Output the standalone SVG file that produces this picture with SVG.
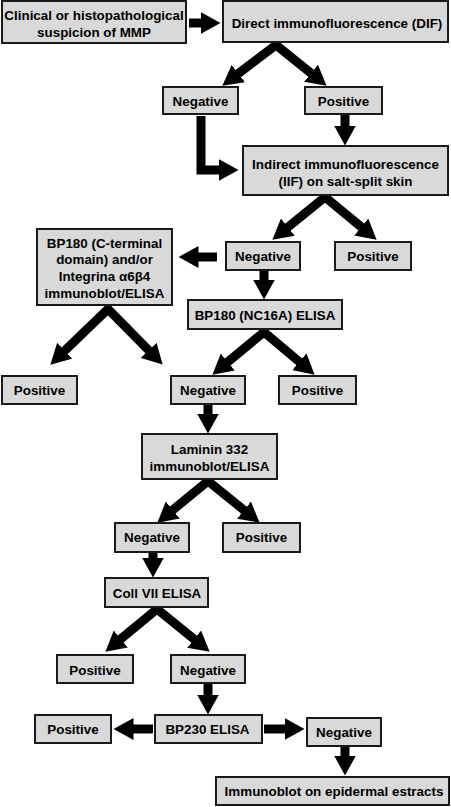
<svg xmlns="http://www.w3.org/2000/svg" width="451" height="807" viewBox="0 0 451 807">
<style>
.box{fill:#d9d9d9;stroke:#1a1a1a;stroke-width:2}
.t{font-family:"Liberation Sans",Arial,sans-serif;font-weight:bold;font-size:13.4px;fill:#000;text-anchor:middle;dominant-baseline:central}
.c{fill:none;stroke:#000;stroke-width:9;stroke-linejoin:miter;stroke-miterlimit:10}
.ch{fill:none;stroke:#000;stroke-width:9}
</style>
<defs>
<marker id="ah" viewBox="0 0 20 22" markerWidth="20" markerHeight="22" refX="0.5" refY="11" orient="auto-start-reverse" markerUnits="userSpaceOnUse">
<path d="M0,0 L20,11 L0,22 z" fill="#000"/>
</marker>
</defs>
<rect width="451" height="807" fill="#fff"/>
<g id="connectors">
<line class="ch" x1="189" y1="23" x2="201" y2="23" stroke-width="10" marker-end="url(#ah)"/>
<polyline class="c" points="237.9,73.9 276,45 311.4,73.5" marker-start="url(#ah)" marker-end="url(#ah)"/>
<line class="ch" x1="345" y1="115" x2="345" y2="126" marker-end="url(#ah)"/>
<path class="ch" d="M201,116 V170 H219" stroke-linejoin="miter" marker-end="url(#ah)"/>
<polyline class="c" points="287.5,227.4 325,197 361.6,227.3" marker-start="url(#ah)" marker-end="url(#ah)"/>
<line class="ch" x1="217" y1="257" x2="198" y2="257" marker-end="url(#ah)"/>
<line class="ch" x1="264" y1="271" x2="264" y2="280" marker-end="url(#ah)"/>
<polyline class="c" points="64.4,351.1 108,309 149,350.7" marker-start="url(#ah)" marker-end="url(#ah)"/>
<polyline class="c" points="227.4,362.3 264,332 299.7,362.1" marker-start="url(#ah)" marker-end="url(#ah)"/>
<line class="ch" x1="208" y1="405" x2="208" y2="414" marker-end="url(#ah)"/>
<polyline class="c" points="172.4,510.3 208,481 244.4,510.4" marker-start="url(#ah)" marker-end="url(#ah)"/>
<line class="ch" x1="153" y1="553" x2="153" y2="558" marker-end="url(#ah)"/>
<polyline class="c" points="120.4,639.3 157,609 194.5,639.4" marker-start="url(#ah)" marker-end="url(#ah)"/>
<line class="ch" x1="208" y1="684" x2="208" y2="695" marker-end="url(#ah)"/>
<line class="ch" x1="153" y1="729" x2="133" y2="729" marker-end="url(#ah)"/>
<line class="ch" x1="264" y1="729" x2="285" y2="729" marker-end="url(#ah)"/>
<line class="ch" x1="345" y1="747" x2="345" y2="756" marker-end="url(#ah)"/>
</g>
<g id="n-clinical"><rect class="box" x="2" y="1" width="184" height="42"/><text class="t" x="94" y="15">Clinical or histopathological</text><text class="t" x="94" y="32">suspicion of MMP</text></g>
<g id="n-dif"><rect class="box" x="223" y="1" width="225" height="41"/><text class="t" x="337" y="23">Direct immunofluorescence (DIF)</text></g>
<g id="n-neg1"><rect class="box" x="163" y="87" width="75" height="27"/><text class="t" x="200.5" y="101">Negative</text></g>
<g id="n-pos1"><rect class="box" x="305" y="87" width="77" height="27"/><text class="t" x="343.5" y="101">Positive</text></g>
<g id="n-iif"><rect class="box" x="243" y="146" width="205" height="49"/><text class="t" x="345.5" y="164">Indirect immunofluorescence</text><text class="t" x="345.5" y="181">(IIF) on salt-split skin</text></g>
<g id="n-bp180c"><rect class="box" x="37" y="229" width="135" height="76"/><text class="t" x="104.5" y="243">BP180 (C-terminal</text><text class="t" x="104.5" y="259">domain) and/or</text><text class="t" x="104.5" y="276">Integrina α6β4</text><text class="t" x="104.5" y="293">immunoblot/ELISA</text></g>
<g id="n-neg2"><rect class="box" x="226" y="242" width="74" height="28"/><text class="t" x="263" y="256">Negative</text></g>
<g id="n-pos2"><rect class="box" x="335" y="242" width="76" height="28"/><text class="t" x="373" y="256">Positive</text></g>
<g id="n-nc16a"><rect class="box" x="188" y="300" width="154" height="29"/><text class="t" x="265" y="315">BP180 (NC16A) ELISA</text></g>
<g id="n-pos3"><rect class="box" x="2" y="376" width="75" height="28"/><text class="t" x="39.5" y="390">Positive</text></g>
<g id="n-neg3"><rect class="box" x="171" y="376" width="74" height="28"/><text class="t" x="208" y="390">Negative</text></g>
<g id="n-pos4"><rect class="box" x="279" y="376" width="77" height="28"/><text class="t" x="317.5" y="390">Positive</text></g>
<g id="n-laminin"><rect class="box" x="142" y="434" width="135" height="45"/><text class="t" x="209.5" y="449">Laminin 332</text><text class="t" x="209.5" y="466">immunoblot/ELISA</text></g>
<g id="n-neg4"><rect class="box" x="115" y="523" width="74" height="29"/><text class="t" x="152" y="537">Negative</text></g>
<g id="n-pos5"><rect class="box" x="223" y="523" width="77" height="29"/><text class="t" x="261.5" y="537">Positive</text></g>
<g id="n-coll7"><rect class="box" x="105" y="578" width="103" height="29"/><text class="t" x="157" y="593">Coll VII ELISA</text></g>
<g id="n-pos6"><rect class="box" x="57" y="655" width="76" height="28"/><text class="t" x="95" y="670">Positive</text></g>
<g id="n-neg6"><rect class="box" x="171" y="655" width="74" height="28"/><text class="t" x="208" y="670">Negative</text></g>
<g id="n-bp230"><rect class="box" x="155" y="715" width="107" height="28"/><text class="t" x="207.5" y="729">BP230 ELISA</text></g>
<g id="n-pos7"><rect class="box" x="35" y="715" width="76" height="28"/><text class="t" x="73" y="729">Positive</text></g>
<g id="n-neg7"><rect class="box" x="307" y="718" width="74" height="28"/><text class="t" x="344" y="732">Negative</text></g>
<g id="n-immunoblot"><rect class="box" x="216" y="777" width="233" height="28"/><text class="t" x="334" y="791">Immunoblot on epidermal estracts</text></g>
</svg>
